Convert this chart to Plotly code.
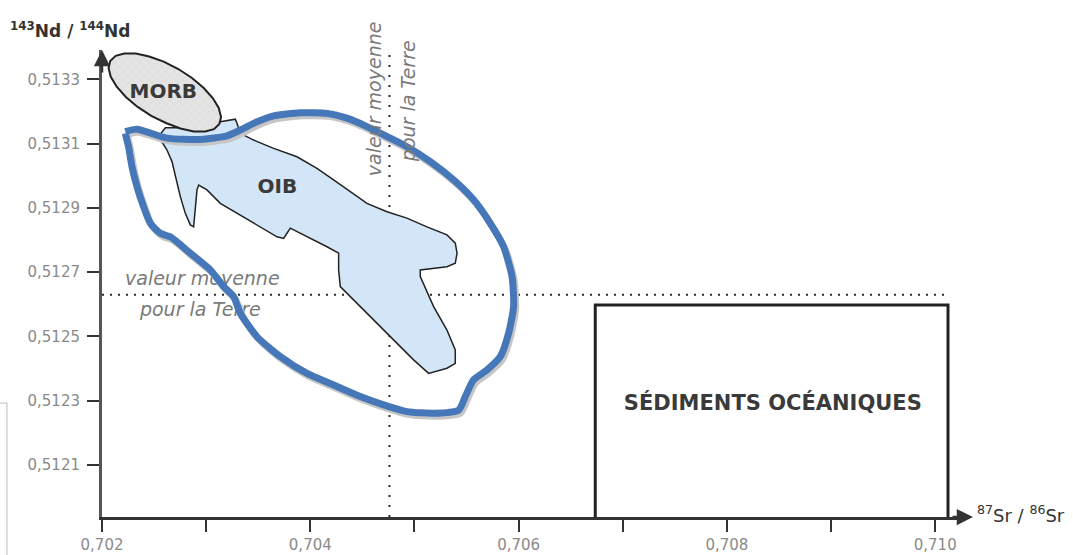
import plotly.graph_objects as go

# ---- axes -----------------------------------------------------------------
sr_ticks = [0.702, 0.704, 0.706, 0.708, 0.710]
sr_ticktext = ["0,702", "0,704", "0,706", "0,708", "0,710"]
sr_minor_ticks = [0.703, 0.705, 0.707, 0.709]
nd_ticks = [0.5121, 0.5123, 0.5125, 0.5127, 0.5129, 0.5131, 0.5133]
nd_ticktext = ["0,5121", "0,5123", "0,5125", "0,5127", "0,5129", "0,5131", "0,5133"]

X_RANGE = [0.702, 0.7102957]
Y_RANGE = [0.5119382, 0.5133912]

# ---- bulk Earth reference ("valeur moyenne pour la Terre") ------------------
earth_sr = 0.70476
earth_nd = 0.51263
earth_h_sr = [0.7020, 0.71010]          # extent of the horizontal reference line
earth_v_nd = [Y_RANGE[0], 0.51339]      # extent of the vertical reference line

# ---- MORB field (ellipse outline) -------------------------------------------
morb_sr = [0.703127, 0.703075, 0.702992, 0.702881, 0.702753, 0.702614, 0.702473,
           0.702342, 0.702229, 0.702141, 0.702084, 0.702063, 0.702079, 0.702131,
           0.702214, 0.702325, 0.702453, 0.702592, 0.702733, 0.702864, 0.702977,
           0.703065, 0.703121, 0.703143, 0.703127]
morb_nd = [0.513161, 0.513145, 0.513138, 0.513138, 0.513147, 0.513164, 0.513186,
           0.513214, 0.513245, 0.513277, 0.513308, 0.513335, 0.513357, 0.513373,
           0.513380, 0.513380, 0.513371, 0.513355, 0.513332, 0.513304, 0.513273,
           0.513241, 0.513211, 0.513183, 0.513161]

# ---- OIB field -----------------------------------------------------------------
oib_sr = [0.703136, 0.703280, 0.703296, 0.703328, 0.703456, 0.703648, 0.703872,
          0.704064, 0.704224, 0.704384, 0.704544, 0.704736, 0.704928, 0.705120,
          0.705312, 0.705392, 0.705409, 0.705392, 0.705312, 0.705056, 0.705056,
          0.705184, 0.705312, 0.705392, 0.705392, 0.705312, 0.705136, 0.704992,
          0.704800, 0.704608, 0.704416, 0.704288, 0.704272, 0.704272, 0.704160,
          0.703968, 0.703808, 0.703776, 0.703744, 0.703680, 0.703520, 0.703328,
          0.703136, 0.703008, 0.702928, 0.702912, 0.702896, 0.702880, 0.702848,
          0.702800, 0.702752, 0.702704, 0.702672, 0.702624, 0.702576, 0.702543,
          0.702608, 0.702848, 0.703040, 0.703136]
oib_nd = [0.513168, 0.513176, 0.513163, 0.513132, 0.513111, 0.513085, 0.513059,
          0.513023, 0.512987, 0.512950, 0.512914, 0.512888, 0.512868, 0.512841,
          0.512816, 0.512790, 0.512759, 0.512728, 0.512717, 0.512707, 0.512686,
          0.512593, 0.512520, 0.512458, 0.512416, 0.512401, 0.512385, 0.512427,
          0.512489, 0.512551, 0.512613, 0.512655, 0.512707, 0.512759, 0.512779,
          0.512810, 0.512837, 0.512821, 0.512805, 0.512810, 0.512841, 0.512878,
          0.512914, 0.512956, 0.512971, 0.512956, 0.512893, 0.512841, 0.512847,
          0.512883, 0.512935, 0.512997, 0.513044, 0.513080, 0.513106, 0.513122,
          0.513149, 0.513149, 0.513161, 0.513168]

# ---- hand-drawn blue contour ---------------------------------------------------
loop_sr = [0.702224, 0.702336, 0.702624, 0.702944, 0.703200, 0.703328, 0.703456,
           0.703648, 0.703904, 0.704160, 0.704352, 0.704544, 0.704736, 0.704928,
           0.705152, 0.705376, 0.705568, 0.705728, 0.705856, 0.705937, 0.705952,
           0.705904, 0.705824, 0.705697, 0.705568, 0.705488, 0.705424, 0.705184,
           0.704928, 0.704704, 0.704480, 0.704224, 0.703968, 0.703712, 0.703488,
           0.703328, 0.703264, 0.703168, 0.703040, 0.702848, 0.702656, 0.702560,
           0.702464, 0.702399, 0.702336, 0.702288, 0.702255, 0.702224]
loop_nd = [0.513137, 0.513145, 0.513117, 0.513113, 0.513124, 0.513142, 0.513163,
           0.513186, 0.513196, 0.513194, 0.513179, 0.513153, 0.513122, 0.513090,
           0.513044, 0.512987, 0.512925, 0.512852, 0.512779, 0.512686, 0.512593,
           0.512510, 0.512437, 0.512396, 0.512365, 0.512313, 0.512271, 0.512261,
           0.512266, 0.512287, 0.512313, 0.512349, 0.512385, 0.512437, 0.512499,
           0.512572, 0.512624, 0.512655, 0.512707, 0.512759, 0.512810, 0.512821,
           0.512852, 0.512904, 0.512966, 0.513028, 0.513090, 0.513132]

# ---- oceanic sediments box ---------------------------------------------------------
sed_sr = [0.706736, 0.710123]
sed_nd_top = 0.512598

# ---- label anchor points ---------------------------------------------------------
labels = {
    "MORB": (0.702589, 0.513256),
    "OIB": (0.703683, 0.512962),
    "SÉDIMENTS OCÉANIQUES": (0.708441, 0.512287),
}
earth_h_labels = {"valeur moyenne": (0.702963, 0.512676),
                  "pour la Terre": (0.702944, 0.512579)}
earth_v_labels = {"valeur moyenne": (0.704614, 0.513239),
                  "pour la Terre": (0.704941, 0.513233)}

FONT = "DejaVu Sans"
PLOT_W, PLOT_H = 864, 467
SHADOW_DX, SHADOW_DY = 2, 3   # pixels, right / down

fig = go.Figure()

# sediments rectangle (bottom edge sits on the Sr axis)
fig.add_trace(go.Scatter(
    x=[sed_sr[0], sed_sr[0], sed_sr[1], sed_sr[1]],
    y=[Y_RANGE[0], sed_nd_top, sed_nd_top, Y_RANGE[0]],
    mode="lines", line=dict(color="#222222", width=3), hoverinfo="skip"))

# bulk Earth dotted reference lines
fig.add_trace(go.Scatter(
    x=earth_h_sr, y=[earth_nd, earth_nd], mode="lines",
    line=dict(color="#2a2a2a", width=2, dash="2px,6px"), hoverinfo="skip"))
fig.add_trace(go.Scatter(
    x=[earth_sr, earth_sr], y=earth_v_nd, mode="lines",
    line=dict(color="#2a2a2a", width=2, dash="2px,8px"), hoverinfo="skip"))

# OIB field
fig.add_trace(go.Scatter(
    x=oib_sr, y=oib_nd, mode="lines", fill="toself", fillcolor="#d2e6f7",
    line=dict(color="#222222", width=1.5), hoverinfo="skip"))

# MORB field with cross-hatched grey fill
fig.add_trace(go.Scatter(
    x=morb_sr, y=morb_nd, mode="lines", fill="toself", fillcolor="#e2e2e2",
    fillpattern=dict(shape="x", fgcolor="#c4c4c4", bgcolor="#e4e4e4",
                     size=6, solidity=0.15),
    line=dict(color="#222222", width=2), hoverinfo="skip"))

# horizontal bulk Earth caption (below the blue contour)
for txt, (sx, sy) in earth_h_labels.items():
    fig.add_trace(go.Scatter(
        x=[sx], y=[sy], mode="text", text=[txt], hoverinfo="skip",
        textfont=dict(family=FONT, size=19, color="#7a7a7a", style="italic")))

# blue contour: grey drop shadow on offset overlay axes, line on top overlay
fig.add_trace(go.Scatter(
    x=loop_sr, y=loop_nd, mode="lines", xaxis="x2", yaxis="y2",
    line=dict(color="#c6c6c6", width=7, shape="spline", smoothing=0.6),
    hoverinfo="skip"))
fig.add_trace(go.Scatter(
    x=loop_sr, y=loop_nd, mode="lines", xaxis="x3", yaxis="y3",
    line=dict(color="#4677b8", width=7, shape="spline", smoothing=0.6),
    hoverinfo="skip"))

# field labels
for txt, (sx, sy) in labels.items():
    fig.add_trace(go.Scatter(
        x=[sx], y=[sy], mode="text", text=[txt], hoverinfo="skip",
        xaxis="x3", yaxis="y3",
        textfont=dict(family=FONT, size=20 if txt != "SÉDIMENTS OCÉANIQUES" else 21,
                      color="#3a3a3a", weight="bold")))

annotations = []
# vertical bulk Earth caption
for txt, (sx, sy) in earth_v_labels.items():
    annotations.append(dict(
        x=sx, y=sy, xref="x", yref="y", text=txt, showarrow=False, textangle=-90,
        font=dict(family=FONT, size=19, color="#7a7a7a", style="italic")))

# axis arrows
annotations.append(dict(x=0, y=1.0, xref="paper", yref="paper", text="",
                        showarrow=True, ax=0, ay=24, arrowhead=2, arrowsize=1.3,
                        arrowwidth=2.5, arrowcolor="#333333"))
annotations.append(dict(x=1.0081, y=0, xref="paper", yref="paper", text="",
                        showarrow=True, ax=-22, ay=0, arrowhead=2, arrowsize=1.3,
                        arrowwidth=2.5, arrowcolor="#333333"))

# axis titles
annotations.append(dict(x=-0.109, y=1.043, xref="paper", yref="paper",
                        xanchor="left", yanchor="middle", showarrow=False,
                        text="<b><sup>143</sup>Nd / <sup>144</sup>Nd</b>",
                        font=dict(family=FONT, size=17, color="#333333")))
annotations.append(dict(x=1.0104, y=0.006, xref="paper", yref="paper",
                        xanchor="left", yanchor="middle", showarrow=False,
                        text="<sup>87</sup>Sr / <sup>86</sup>Sr",
                        font=dict(family=FONT, size=18, color="#333333")))

x_shift = SHADOW_DX * (X_RANGE[1] - X_RANGE[0]) / PLOT_W
y_shift = SHADOW_DY * (Y_RANGE[1] - Y_RANGE[0]) / PLOT_H

fig.update_layout(
    width=1073, height=555,
    margin=dict(l=102, r=107, t=50, b=38),
    paper_bgcolor="white", plot_bgcolor="white",
    showlegend=False,
    font=dict(family=FONT),
    xaxis=dict(range=X_RANGE, showline=True, linecolor="#333333", linewidth=3,
               ticks="outside", ticklen=12, tickwidth=2, tickcolor="#333333",
               tickvals=sr_ticks, ticktext=sr_ticktext,
               minor=dict(tickvals=sr_minor_ticks, ticks="outside", ticklen=12,
                          tickwidth=2, tickcolor="#333333", showgrid=False),
               tickfont=dict(family=FONT, size=15, color="#8a8a8a"),
               showgrid=False, zeroline=False, automargin=False),
    yaxis=dict(range=Y_RANGE, showline=True, linecolor="#555555", linewidth=3,
               ticks="outside", ticklen=12, tickwidth=2, tickcolor="#333333",
               tickvals=nd_ticks, ticktext=nd_ticktext,
               tickfont=dict(family=FONT, size=15, color="#8a8a8a"),
               ticklabelstandoff=4,
               showgrid=False, zeroline=False, automargin=False),
    xaxis2=dict(overlaying="x", range=[X_RANGE[0] - x_shift, X_RANGE[1] - x_shift],
                visible=False),
    yaxis2=dict(overlaying="y", range=[Y_RANGE[0] + y_shift, Y_RANGE[1] + y_shift],
                visible=False),
    xaxis3=dict(overlaying="x", range=X_RANGE, visible=False),
    yaxis3=dict(overlaying="y", range=Y_RANGE, visible=False),
    annotations=annotations,
    shapes=[dict(type="path", xref="paper", yref="paper",
                 path="M -0.118 0.244 L -0.110 0.244 L -0.110 -0.09",
                 line=dict(color="#bbbbbb", width=1))],
)

fig.write_html("out.html")
